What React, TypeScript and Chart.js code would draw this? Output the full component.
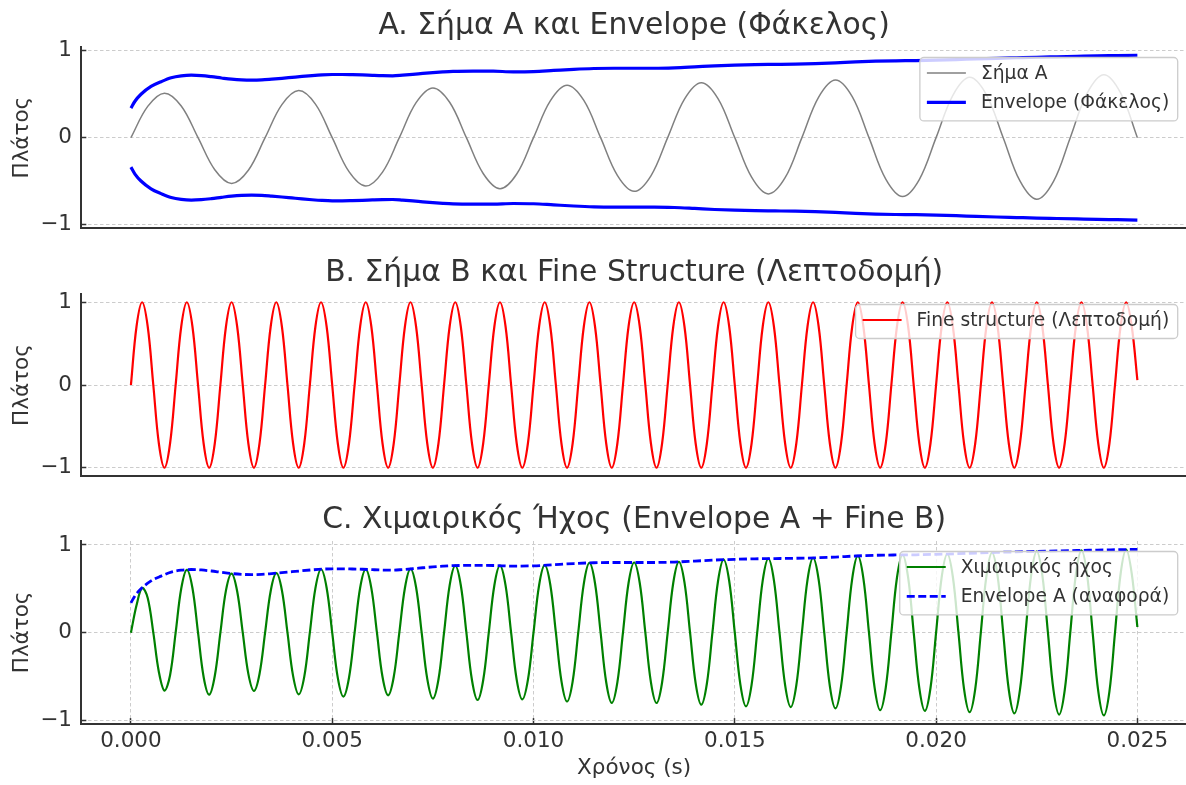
import React, { useEffect, useRef } from 'react';
import { Chart, registerables } from 'chart.js';

Chart.register(...registerables);

// ---------------- DATA (time in milliseconds) ----------------
const timeA = [
  0, 0.417, 0.833, 1.25, 1.667, 2.083, 2.5, 2.917,
  3.333, 3.75, 4.167, 4.583, 5, 5.417, 5.833, 6.25,
  6.667, 7.083, 7.5, 7.917, 8.333, 8.75, 9.167, 9.583,
  10, 10.417, 10.833, 11.25, 11.667, 12.083, 12.5, 12.917,
  13.333, 13.75, 14.167, 14.583, 15, 15.417, 15.833, 16.25,
  16.667, 17.083, 17.5, 17.917, 18.333, 18.75, 19.167, 19.583,
  20, 20.417, 20.833, 21.25, 21.667, 22.083, 22.5, 22.917,
  23.333, 23.75, 24.167, 24.583, 25,
];
const signalA = [
  0, 0.36, 0.513, 0.365, 0, -0.37, -0.528, -0.376,
  0, 0.381, 0.543, 0.387, 0, -0.392, -0.558, -0.397,
  0, 0.403, 0.573, 0.408, 0, -0.413, -0.588, -0.419,
  0, 0.424, 0.604, 0.429, 0, -0.435, -0.619, -0.44,
  0, 0.445, 0.634, 0.451, 0, -0.456, -0.649, -0.462,
  0, 0.467, 0.664, 0.472, 0, -0.478, -0.679, -0.483,
  0, 0.488, 0.695, 0.494, 0, -0.499, -0.71, -0.504,
  0, 0.51, 0.725, 0.515, 0,
];

const envTime = [
  0, 0.1, 0.25, 0.5, 0.75, 1, 1.25, 1.5, 1.75, 2, 2.25, 2.5, 2.75, 3, 3.25, 3.5, 3.75,
  4, 4.25, 4.5, 4.75, 5, 5.25, 5.5, 5.75, 6, 6.25, 6.5, 6.75, 7, 7.25, 7.5, 7.75, 8,
  8.5, 9, 9.5, 10, 10.5, 11, 11.5, 12, 12.5, 13, 13.5, 14, 14.5, 15, 15.5, 16, 16.5,
  17, 17.5, 18, 18.5, 19, 19.5, 20, 20.5, 21, 21.5, 22, 22.5, 23, 23.5, 24, 24.5, 25,
];
const envelopeA = [
  0.34, 0.42, 0.5, 0.59, 0.645, 0.69, 0.712, 0.72, 0.715, 0.703, 0.688, 0.674, 0.665, 0.662, 0.665, 0.674, 0.684,
  0.695, 0.706, 0.716, 0.724, 0.728, 0.728, 0.726, 0.723, 0.718, 0.714, 0.713, 0.72, 0.729, 0.74, 0.75, 0.758, 0.764,
  0.767, 0.766, 0.759, 0.762, 0.775, 0.788, 0.797, 0.8, 0.8, 0.8, 0.805, 0.816, 0.828, 0.836, 0.842, 0.845, 0.848,
  0.853, 0.862, 0.874, 0.882, 0.886, 0.888, 0.893, 0.9, 0.908, 0.915, 0.921, 0.927, 0.932, 0.937, 0.942, 0.946, 0.95,
];

const timeB = [
  0, 0.139, 0.278, 0.417, 0.556, 0.694, 0.833, 0.972,
  1.111, 1.25, 1.389, 1.528, 1.667, 1.806, 1.944, 2.083,
  2.222, 2.361, 2.5, 2.639, 2.778, 2.917, 3.056, 3.194,
  3.333, 3.472, 3.611, 3.75, 3.889, 4.028, 4.167, 4.306,
  4.444, 4.583, 4.722, 4.861, 5, 5.139, 5.278, 5.417,
  5.556, 5.694, 5.833, 5.972, 6.111, 6.25, 6.389, 6.528,
  6.667, 6.806, 6.944, 7.083, 7.222, 7.361, 7.5, 7.639,
  7.778, 7.917, 8.056, 8.194, 8.333, 8.472, 8.611, 8.75,
  8.889, 9.028, 9.167, 9.306, 9.444, 9.583, 9.722, 9.861,
  10, 10.139, 10.278, 10.417, 10.556, 10.694, 10.833, 10.972,
  11.111, 11.25, 11.389, 11.528, 11.667, 11.806, 11.944, 12.083,
  12.222, 12.361, 12.5, 12.639, 12.778, 12.917, 13.056, 13.194,
  13.333, 13.472, 13.611, 13.75, 13.889, 14.028, 14.167, 14.306,
  14.444, 14.583, 14.722, 14.861, 15, 15.139, 15.278, 15.417,
  15.556, 15.694, 15.833, 15.972, 16.111, 16.25, 16.389, 16.528,
  16.667, 16.806, 16.944, 17.083, 17.222, 17.361, 17.5, 17.639,
  17.778, 17.917, 18.056, 18.194, 18.333, 18.472, 18.611, 18.75,
  18.889, 19.028, 19.167, 19.306, 19.444, 19.583, 19.722, 19.861,
  20, 20.139, 20.278, 20.417, 20.556, 20.694, 20.833, 20.972,
  21.111, 21.25, 21.389, 21.528, 21.667, 21.806, 21.944, 22.083,
  22.222, 22.361, 22.5, 22.639, 22.778, 22.917, 23.056, 23.194,
  23.333, 23.472, 23.611, 23.75, 23.889, 24.028, 24.167, 24.306,
  24.444, 24.583, 24.722, 24.861, 25,
];
const fineB = [
  0, 0.707, 1, 0.707, 0, -0.707, -1, -0.707,
  0, 0.707, 1, 0.707, 0, -0.707, -1, -0.707,
  0, 0.707, 1, 0.707, 0, -0.707, -1, -0.707,
  0, 0.707, 1, 0.707, 0, -0.707, -1, -0.707,
  0, 0.707, 1, 0.707, 0, -0.707, -1, -0.707,
  0, 0.707, 1, 0.707, 0, -0.707, -1, -0.707,
  0, 0.707, 1, 0.707, 0, -0.707, -1, -0.707,
  0, 0.707, 1, 0.707, 0, -0.707, -1, -0.707,
  0, 0.707, 1, 0.707, 0, -0.707, -1, -0.707,
  0, 0.707, 1, 0.707, 0, -0.707, -1, -0.707,
  0, 0.707, 1, 0.707, 0, -0.707, -1, -0.707,
  0, 0.707, 1, 0.707, 0, -0.707, -1, -0.707,
  0, 0.707, 1, 0.707, 0, -0.707, -1, -0.707,
  0, 0.707, 1, 0.707, 0, -0.707, -1, -0.707,
  0, 0.707, 1, 0.707, 0, -0.707, -1, -0.707,
  0, 0.707, 1, 0.707, 0, -0.707, -1, -0.707,
  0, 0.707, 1, 0.707, 0, -0.707, -1, -0.707,
  0, 0.707, 1, 0.707, 0, -0.707, -1, -0.707,
  0, 0.707, 1, 0.707, 0, -0.707, -1, -0.707,
  0, 0.707, 1, 0.707, 0, -0.707, -1, -0.707,
  0, 0.707, 1, 0.707, 0, -0.707, -1, -0.707,
  0, 0.707, 1, 0.707, 0, -0.707, -1, -0.707,
  0, 0.707, 1, 0.707, 0.06,
];
const chimeric = [
  0, 0.312, 0.51, 0.396, 0, -0.447, -0.66, -0.484,
  0, 0.503, 0.716, 0.509, 0, -0.504, -0.706, -0.494,
  0, 0.482, 0.674, 0.473, 0, -0.469, -0.663, -0.47,
  0, 0.476, 0.678, 0.484, 0, -0.492, -0.702, -0.501,
  0, 0.508, 0.723, 0.513, 0, -0.515, -0.728, -0.514,
  0, 0.512, 0.721, 0.508, 0, -0.505, -0.713, -0.505,
  0, 0.51, 0.727, 0.518, 0, -0.526, -0.75, -0.533,
  0, 0.539, 0.764, 0.541, 0, -0.542, -0.767, -0.542,
  0, 0.541, 0.764, 0.539, 0, -0.537, -0.76, -0.538,
  0, 0.541, 0.769, 0.546, 0, -0.551, -0.784, -0.557,
  0, 0.56, 0.795, 0.564, 0, -0.565, -0.8, -0.566,
  0, 0.566, 0.8, 0.566, 0, -0.566, -0.801, -0.567,
  0, 0.569, 0.807, 0.573, 0, -0.577, -0.82, -0.582,
  0, 0.586, 0.832, 0.589, 0, -0.592, -0.839, -0.595,
  0, 0.596, 0.844, 0.597, 0, -0.598, -0.847, -0.6,
  0, 0.602, 0.852, 0.604, 0, -0.608, -0.862, -0.612,
  0, 0.617, 0.875, 0.62, 0, -0.623, -0.883, -0.625,
  0, 0.626, 0.887, 0.627, 0, -0.628, -0.89, -0.63,
  0, 0.633, 0.897, 0.635, 0, -0.639, -0.905, -0.642,
  0, 0.644, 0.913, 0.647, 0, -0.65, -0.92, -0.652,
  0, 0.654, 0.927, 0.656, 0, -0.658, -0.933, -0.66,
  0, 0.662, 0.938, 0.664, 0, -0.666, -0.943, -0.668,
  0, 0.669, 0.948, 0.671, 0.065,
];

const xTickValues = [0, 5, 10, 15, 20, 25];
const xTickLabels = ['0.000', '0.005', '0.010', '0.015', '0.020', '0.025'];
const yTickValues = [-1, 0, 1];
const yTickLabels = ['−1', '0', '1'];

const panelTitles = [
  'A. Σήμα A και Envelope (Φάκελος)',
  'B. Σήμα B και Fine Structure (Λεπτοδομή)',
  'C. Χιμαιρικός Ήχος (Envelope A + Fine B)',
];
const yAxisLabel = 'Πλάτος';
const xAxisLabel = 'Χρόνος (s)';
const labelSignalA = 'Σήμα A';
const labelEnvelope = 'Envelope (Φάκελος)';
const labelFine = 'Fine structure (Λεπτοδομή)';
const labelChimeric = 'Χιμαιρικός ήχος';
const labelEnvRef = 'Envelope A (αναφορά)';

// ---------------- STYLE ----------------
const FONT = '"DejaVu Sans", "Noto Sans", sans-serif';
const TEXT = '#333333';
const SPINE = '#333333';
const GRID = '#cccccc';
const CANVAS_W = 1200;
const AXIS_LEFT = 80.6;
const AXIS_RIGHT = 1187.7;
const TITLE_SIZE = 29.8;
const TICK_SIZE = 21.5;
const LEGEND_SIZE = 18.7;

const GRAY = '#808080';
const BLUE = '#0000ff';
const RED = '#ff0000';
const GREEN = '#008000';

type LegendItem = { text: string; color: string; width: number; dash?: number[] };

const toPoints = (t: number[], v: number[], sign = 1) => t.map((x, i) => ({ x, y: sign * v[i] }));

function roundedRect(ctx: CanvasRenderingContext2D, x: number, y: number, w: number, h: number, r: number) {
  ctx.beginPath();
  ctx.moveTo(x + r, y);
  ctx.lineTo(x + w - r, y);
  ctx.arcTo(x + w, y, x + w, y + r, r);
  ctx.lineTo(x + w, y + h - r);
  ctx.arcTo(x + w, y + h, x + w - r, y + h, r);
  ctx.lineTo(x + r, y + h);
  ctx.arcTo(x, y + h, x, y + h - r, r);
  ctx.lineTo(x, y + r);
  ctx.arcTo(x, y, x + r, y, r);
  ctx.closePath();
}

function legendPlugin(items: LegendItem[]) {
  return {
    id: 'mplLegend',
    afterDraw(chart: any) {
      const { ctx, chartArea } = chart;
      ctx.save();
      ctx.font = `${LEGEND_SIZE}px ${FONT}`;
      const textW = Math.max(...items.map((it) => ctx.measureText(it.text).width));
      const padL = 7, handle = 39, gap = 15, padR = 8.5, rowH = 29.4, firstRow = 15.5, lastPad = 18.5;
      const w = padL + handle + gap + textW + padR;
      const h = firstRow + (items.length - 1) * rowH + lastPad;
      const right = chartArea.right - 10;
      const left = right - w;
      const top = chartArea.top + 10.5;
      roundedRect(ctx, left, top, w, h, 4);
      ctx.fillStyle = 'rgba(255,255,255,0.8)';
      ctx.fill();
      ctx.lineWidth = 1.3;
      ctx.strokeStyle = '#cccccc';
      ctx.stroke();
      items.forEach((it, i) => {
        const y = top + firstRow + i * rowH;
        ctx.beginPath();
        ctx.setLineDash(it.dash || []);
        ctx.lineWidth = it.width;
        ctx.strokeStyle = it.color;
        ctx.moveTo(left + padL, y);
        ctx.lineTo(left + padL + handle, y);
        ctx.stroke();
        ctx.setLineDash([]);
        ctx.fillStyle = TEXT;
        ctx.textBaseline = 'middle';
        ctx.textAlign = 'left';
        ctx.fillText(it.text, left + padL + handle + gap, y + 1);
      });
      ctx.restore();
    },
  };
}

type Panel = {
  top: number;
  height: number;
  areaTop: number;
  areaBottom: number;
  yMin: number;
  yMax: number;
  showX: boolean;
  title: string;
  datasets: any[];
  legend: LegendItem[];
};

const SINE = { tension: 0.36, cubicInterpolationMode: 'default' };
const SMOOTH = { cubicInterpolationMode: 'monotone' };

const panels: Panel[] = [
  {
    top: 0, height: 245, areaTop: 47, areaBottom: 228.3, yMin: -1.045, yMax: 1.045, showX: false,
    title: panelTitles[0],
    datasets: [
      { label: labelEnvelope, data: toPoints(envTime, envelopeA), borderColor: BLUE, borderWidth: 3.2, ...SMOOTH },
      { label: '', data: toPoints(envTime, envelopeA, -1), borderColor: BLUE, borderWidth: 3.2, ...SMOOTH },
      { label: labelSignalA, data: toPoints(timeA, signalA), borderColor: GRAY, borderWidth: 1.5, ...SINE },
    ],
    legend: [
      { text: labelSignalA, color: GRAY, width: 1.5 },
      { text: labelEnvelope, color: BLUE, width: 3.2 },
    ],
  },
  {
    top: 245, height: 247, areaTop: 49, areaBottom: 231, yMin: -1.1, yMax: 1.1, showX: false,
    title: panelTitles[1],
    datasets: [
      { label: labelFine, data: toPoints(timeB, fineB), borderColor: RED, borderWidth: 2.2, ...SINE },
    ],
    legend: [{ text: labelFine, color: RED, width: 2.2 }],
  },
  {
    top: 492, height: 293, areaTop: 49, areaBottom: 231.8, yMin: -1.038, yMax: 1.045, showX: true,
    title: panelTitles[2],
    datasets: [
      { label: labelEnvRef, data: toPoints(envTime, envelopeA), borderColor: BLUE, borderWidth: 2.8, borderDash: [8, 3.5], ...SMOOTH },
      { label: labelChimeric, data: toPoints(timeB, chimeric), borderColor: GREEN, borderWidth: 2.2, ...SINE },
    ],
    legend: [
      { text: labelChimeric, color: GREEN, width: 2.2 },
      { text: labelEnvRef, color: BLUE, width: 2.8, dash: [8, 3.5] },
    ],
  },
];

function buildConfig(p: Panel): any {
  const titlePadTop = p.areaTop - 10.3 - 0.346 * TITLE_SIZE - 0.6 * TITLE_SIZE;
  const titlePadBottom = p.areaTop - titlePadTop - 1.2 * TITLE_SIZE;
  const tickFont = { family: FONT, size: TICK_SIZE };
  return {
    type: 'line',
    data: { datasets: p.datasets.map((d) => ({ ...d, fill: false, pointRadius: 0 })) },
    options: {
      animation: false,
      responsive: false,
      maintainAspectRatio: false,
      devicePixelRatio: 1,
      events: [],
      layout: { padding: { left: 0, top: 0, bottom: 0, right: CANVAS_W - AXIS_RIGHT } },
      plugins: {
        legend: { display: false },
        tooltip: { enabled: false },
        title: {
          display: true,
          text: p.title,
          fullSize: false,
          color: TEXT,
          font: { family: FONT, size: TITLE_SIZE, weight: 'normal' },
          padding: { top: titlePadTop, bottom: titlePadBottom },
        },
      },
      scales: {
        x: {
          type: 'linear',
          min: -1.25,
          max: 26.25,
          afterBuildTicks: (s: any) => {
            s.ticks = xTickValues.map((v) => ({ value: v }));
          },
          afterFit: (s: any) => {
            s.height = p.height - p.areaBottom;
            s.paddingLeft = 0; s.paddingRight = 0; s.paddingTop = 0; s.paddingBottom = 0;
          },
          ticks: {
            display: p.showX,
            autoSkip: false,
            maxRotation: 0,
            minRotation: 0,
            callback: (_v: any, i: number) => xTickLabels[i],
            font: tickFont,
            color: TEXT,
            padding: 10.2,
          },
          grid: {
            display: true,
            drawOnChartArea: p.showX,
            drawTicks: p.showX,
            color: GRID,
            lineWidth: 1,
            tickLength: -5.7,
            tickColor: SPINE,
            tickWidth: 1.5,
          },
          border: { display: true, color: SPINE, width: 2, dash: [3.5, 2.5] },
          title: {
            display: p.showX,
            text: xAxisLabel,
            color: TEXT,
            font: tickFont,
            padding: { top: 0, bottom: 3.5 },
          },
        },
        y: {
          type: 'linear',
          min: p.yMin,
          max: p.yMax,
          afterBuildTicks: (s: any) => {
            s.ticks = yTickValues.map((v) => ({ value: v }));
          },
          afterFit: (s: any) => {
            s.width = AXIS_LEFT;
            s.paddingLeft = 0; s.paddingRight = 0; s.paddingTop = 0; s.paddingBottom = 0;
          },
          ticks: {
            callback: (_v: any, i: number) => yTickLabels[i],
            font: tickFont,
            color: TEXT,
            padding: 14.3,
          },
          grid: {
            color: GRID,
            lineWidth: 1,
            tickLength: -5.7,
            tickColor: SPINE,
            tickWidth: 1.5,
          },
          border: { display: true, color: SPINE, width: 2, dash: [3.5, 2.5] },
          title: {
            display: true,
            text: yAxisLabel,
            color: TEXT,
            font: tickFont,
            padding: { top: 9.5, bottom: 0 },
          },
        },
      },
    },
    plugins: [legendPlugin(p.legend)],
  };
}

function PanelChart({ p }: { p: Panel }) {
  const ref = useRef<HTMLCanvasElement>(null);
  useEffect(() => {
    if (!ref.current) return;
    const chart = new Chart(ref.current, buildConfig(p));
    return () => chart.destroy();
  }, [p]);
  return (
    <canvas
      ref={ref}
      width={CANVAS_W}
      height={p.height}
      style={{ position: 'absolute', left: 0, top: p.top, width: CANVAS_W, height: p.height }}
    />
  );
}

export default function App() {
  return (
    <div
      style={{
        position: 'fixed',
        left: 0,
        top: 0,
        width: 1186,
        height: 785,
        overflow: 'hidden',
        background: '#ffffff',
      }}
    >
      {panels.map((p, i) => (
        <PanelChart key={i} p={p} />
      ))}
    </div>
  );
}
